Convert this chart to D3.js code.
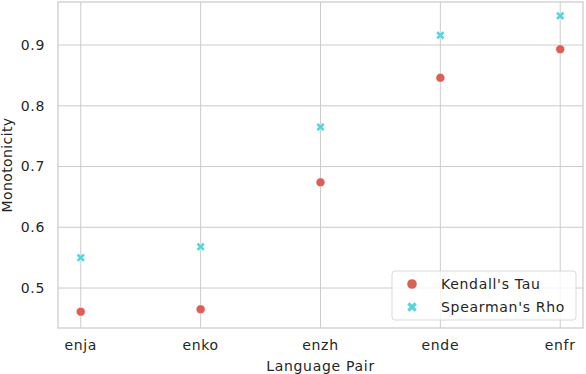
<!DOCTYPE html>
<html>
<head>
<meta charset="utf-8">
<script src="https://cdn.jsdelivr.net/npm/d3@7"></script>
<style>
  body { margin: 0; background: #fff; }
  text { font-family: "DejaVu Sans", sans-serif; fill: #262626; font-size: 14px; letter-spacing: 0.7px; }
</style>
</head>
<body>
<div id="chart"></div>
<script>
/**
 * DATA
 * */
const pairs = ["enja", "enko", "enzh", "ende", "enfr"];
const kendall = [0.461, 0.465, 0.674, 0.846, 0.893];
const spearman = [0.550, 0.568, 0.765, 0.916, 0.948];
const yTicks = [0.5, 0.6, 0.7, 0.8, 0.9];

/**
 * CONSTANTS
 * */
const width = 586,
  height = 374,
  margin = { top: 2, bottom: 46, left: 58, right: 3 };
const red = "#db5f57", cyan = "#57d3db";

const svg = d3.select("#chart")
  .append("svg")
  .attr("width", width)
  .attr("height", height);

const x = d3.scaleLinear()
  .domain([-0.19, pairs.length - 1 + 0.19])
  .range([margin.left, width - margin.right]);

const y = d3.scaleLinear()
  .domain([0.4342, 0.9708])
  .range([height - margin.bottom, margin.top]);

// grid
svg.append("g")
  .selectAll("line")
  .data(yTicks)
  .join("line")
  .attr("x1", margin.left).attr("x2", width - margin.right)
  .attr("y1", d => y(d)).attr("y2", d => y(d))
  .attr("stroke", "#cccccc").attr("stroke-width", 1);

svg.append("g")
  .selectAll("line")
  .data(pairs)
  .join("line")
  .attr("x1", (d, i) => x(i)).attr("x2", (d, i) => x(i))
  .attr("y1", margin.top).attr("y2", height - margin.bottom)
  .attr("stroke", "#cccccc").attr("stroke-width", 1);

// spines
svg.append("rect")
  .attr("x", margin.left).attr("y", margin.top)
  .attr("width", width - margin.left - margin.right)
  .attr("height", height - margin.top - margin.bottom)
  .attr("fill", "none")
  .attr("stroke", "#cccccc")
  .attr("stroke-width", 1.25);

// tick labels
svg.append("g")
  .selectAll("text")
  .data(yTicks)
  .join("text")
  .attr("x", margin.left - 13)
  .attr("y", d => y(d))
  .attr("dy", "0.35em")
  .attr("text-anchor", "end")
  .text(d => d3.format(".1f")(d));

svg.append("g")
  .selectAll("text")
  .data(pairs)
  .join("text")
  .attr("x", (d, i) => x(i))
  .attr("y", height - margin.bottom + 22)
  .attr("text-anchor", "middle")
  .text(d => d);

// axis titles
svg.append("text")
  .attr("x", (margin.left + width - margin.right) / 2)
  .attr("y", height - 3)
  .attr("text-anchor", "middle")
  .text("Language Pair");

svg.append("text")
  .attr("transform", `translate(12, ${(margin.top + height - margin.bottom) / 2}) rotate(-90)`)
  .attr("text-anchor", "middle")
  .style("letter-spacing", "0.4px")
  .text("Monotonicity");

// filled "X" marker like matplotlib's
function xPath(s) {
  const a = s / 2, b = s / 4.2;
  return `M${-a},${-a + b}L${-a + b},${-a}L0,${-b}L${a - b},${-a}L${a},${-a + b}L${b},0L${a},${a - b}L${a - b},${a}L0,${b}L${-a + b},${a}L${-a},${a - b}L${-b},0Z`;
}

svg.append("g")
  .selectAll("circle")
  .data(kendall)
  .join("circle")
  .attr("cx", (d, i) => x(i))
  .attr("cy", d => y(d))
  .attr("r", 4.5)
  .attr("fill", red)
  .attr("stroke", "#fff")
  .attr("stroke-width", 0.6);

svg.append("g")
  .selectAll("path")
  .data(spearman)
  .join("path")
  .attr("transform", (d, i) => `translate(${x(i)}, ${y(d)})`)
  .attr("d", xPath(8.5))
  .attr("fill", cyan)
  .attr("stroke", "#fff")
  .attr("stroke-width", 0.4);

// legend
const legend = svg.append("g").attr("transform", "translate(392, 271)");
legend.append("rect")
  .attr("width", 184).attr("height", 49)
  .attr("rx", 3)
  .attr("fill", "#fff").attr("fill-opacity", 0.8)
  .attr("stroke", "#d9d9d9").attr("stroke-width", 1);
legend.append("circle")
  .attr("cx", 20).attr("cy", 13).attr("r", 4.8).attr("fill", red);
legend.append("path")
  .attr("transform", "translate(20, 36)")
  .attr("d", xPath(9.5)).attr("fill", cyan);
legend.append("text")
  .attr("x", 49).attr("y", 13).attr("dy", "0.35em")
  .text("Kendall's Tau");
legend.append("text")
  .attr("x", 49).attr("y", 36).attr("dy", "0.35em")
  .text("Spearman's Rho");
</script>
</body>
</html>
